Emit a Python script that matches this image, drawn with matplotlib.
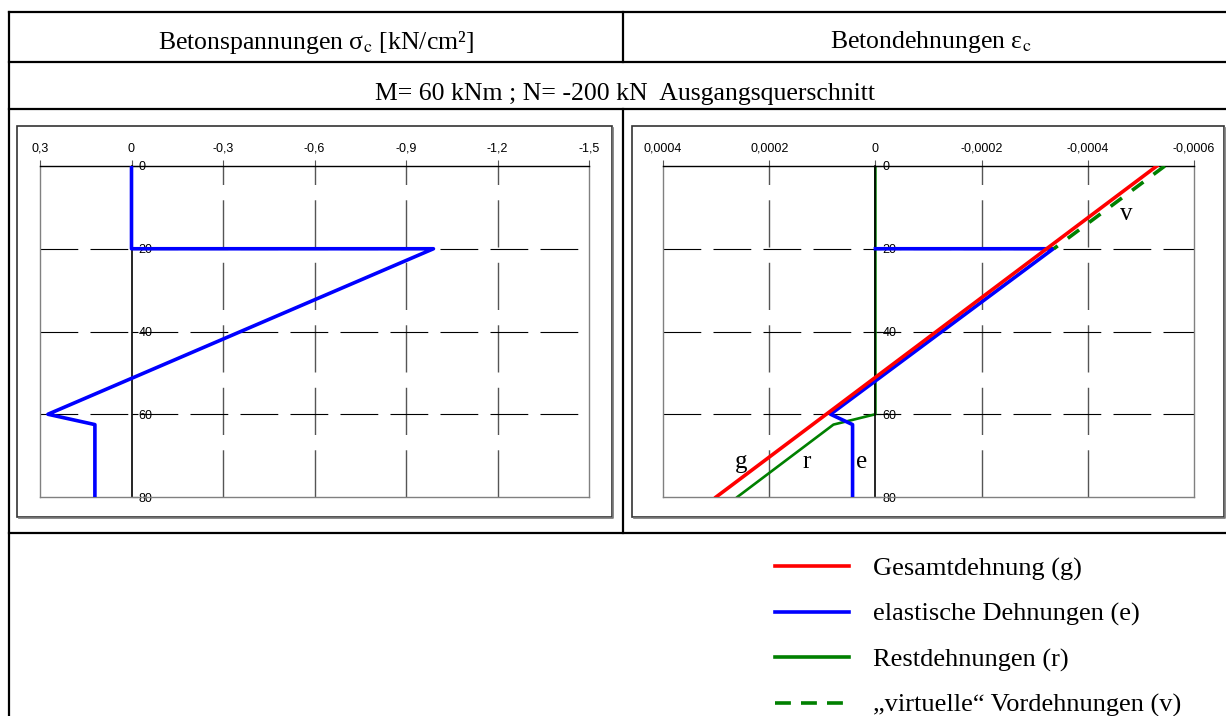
import matplotlib
matplotlib.use('Agg')
import matplotlib.pyplot as plt
from matplotlib.lines import Line2D
from matplotlib.patches import Rectangle
from matplotlib.ticker import FuncFormatter
from matplotlib.font_manager import FontProperties

plt.rcParams['font.family'] = 'Liberation Sans'
plt.rcParams['mathtext.fontset'] = 'stix'

W, H = 1226, 716

# Betonspannungen sigma_c [kN/cm2] ueber die Hoehe [cm]
sig_depth = [0, 20, 20, 60, 62.5, 80]
sig_val = [0, 0, -0.99, 0.274, 0.12, 0.12]

# Dehnungen ueber die Hoehe
g_depth = [0, 80]
g_val = [-0.00053, 0.0003]
e_depth = [20, 20, 60, 62.5, 80]
e_val = [0, -0.000335, 0.0000845, 0.000043, 0.000043]
r_depth = [0, 60, 62.5, 80]
r_val = [0, 0, 0.000079, 0.00026]
v_depth = [0, 20]
v_val = [-0.000545, -0.000336]

sig_ticks = [0.3, 0, -0.3, -0.6, -0.9, -1.2, -1.5]
eps_ticks = [0.0004, 0.0002, 0, -0.0002, -0.0004, -0.0006]
depth_ticks = [0, 20, 40, 60, 80]

legend_labels = ['Gesamtdehnung (g)', 'elastische Dehnungen (e)',
                 'Restdehnungen (r)', '\u201evirtuelle\u201c Vordehnungen (v)']

serif = 'Liberation Serif'

fig = plt.figure(figsize=(W / 100, H / 100), dpi=100)
bg = fig.add_axes([0, 0, 1, 1])
bg.set_xlim(0, W)
bg.set_ylim(H, 0)
bg.axis('off')

# table frame
lw_t = 1.6
for y in [12, 62, 109, 533]:
    bg.plot([9, W], [y, y], color='black', lw=lw_t)
bg.plot([9, 9], [12, H], color='black', lw=lw_t)
bg.plot([623, 623], [12, 62], color='black', lw=lw_t)
bg.plot([623, 623], [109, 533], color='black', lw=lw_t)

# chart boxes (with a slight shadow)
for x0, x1 in [(17, 612), (632, 1224)]:
    bg.plot([x0 + 1.5, x1 + 1, x1 + 1], [518, 518, 127.5], color='#777777', lw=1.2)
    bg.add_patch(Rectangle((x0, 126), x1 - x0, 517 - 126, fill=False,
                           ec='#333333', lw=1.2))

bg.text(316, 42, 'Betonspannungen σ$_\\mathrm{c}$ [kN/cm²]', family=serif,
        fontsize=18.5, ha='center', va='center')
bg.text(931, 42, 'Betondehnungen ε$_\\mathrm{c}$', family=serif,
        fontsize=18.5, ha='center', va='center')
bg.text(625, 94, 'M= 60 kNm ; N= -200 kN  Ausgangsquerschnitt', family=serif,
        fontsize=18.5, ha='center', va='center')

fmt = FuncFormatter(lambda v, p: ('%g' % v).replace('.', ','))


def make_ax(x0, x1, ticks):
    ax = fig.add_axes([x0 / W, 1 - 497 / H, (x1 - x0) / W, (497 - 166) / H])
    ax.patch.set_alpha(0)
    ax.set_xlim(ticks[0], ticks[-1])
    ax.set_ylim(80, 0)
    ax.spines['top'].set_color('black')
    ax.spines['top'].set_linewidth(1)
    for s in ['left', 'bottom']:
        ax.spines[s].set_color('#808080')
        ax.spines[s].set_linewidth(1)
    ax.spines['right'].set_position(('data', 0))
    ax.spines['right'].set_color('black')
    ax.spines['right'].set_linewidth(1.2)
    ax.axvline(ticks[-1], color='#808080', lw=1, clip_on=False)
    for t in ticks[1:-1]:
        if t != 0:
            ax.axvline(t, color='#555555', lw=1, ls=(0, (34, 11)), zorder=1)
    for d in depth_ticks[1:-1]:
        ax.axhline(d, color='black', lw=0.8, ls=(0, (34, 11)), zorder=1)
    ax.xaxis.set_ticks_position('top')
    ax.set_xticks(ticks)
    ax.xaxis.set_major_formatter(fmt)
    ax.yaxis.set_ticks_position('right')
    ax.set_yticks(depth_ticks)
    ax.tick_params(axis='x', direction='out', length=4, pad=4, labelsize=9,
                   color='#555555')
    ax.tick_params(axis='y', direction='out', length=4, pad=1, labelsize=9)
    return ax


ax1 = make_ax(40, 589, sig_ticks)
ax1.plot(sig_val, sig_depth, color='#0000ff', lw=2.6, zorder=3)

ax2 = make_ax(663, 1194, eps_ticks)
ax2.plot(e_val, e_depth, color='#0000ff', lw=2.6, zorder=3)
ax2.plot(r_val, r_depth, color='#008000', lw=1.9, zorder=2)
ax2.plot(v_val, v_depth, color='#008000', lw=2.6, dashes=(3.9, 3.5), zorder=3)
ax2.plot(g_val, g_depth, color='#ff0000', lw=2.6, zorder=4)

for lab, xv, yv in [('g', 0.000252, 71.5), ('r', 0.00013, 71.5),
                    ('e', 0.000026, 71.5), ('v', -0.000473, 11.6)]:
    ax2.text(xv, yv, lab, family=serif, fontsize=18, ha='center', va='center')

handles = [Line2D([], [], color='#ff0000', lw=2.6),
           Line2D([], [], color='#0000ff', lw=2.6),
           Line2D([], [], color='#008000', lw=2.6),
           Line2D([], [], color='#008000', lw=2.6, dashes=(4.4, 2.8))]
fig.legend(handles, legend_labels, loc='upper left',
           bbox_to_anchor=(775 / W, 1 - 557 / H), frameon=False,
           prop=FontProperties(family=serif, size=19), borderpad=0,
           borderaxespad=0, handlelength=2.8, handletextpad=0.9,
           labelspacing=0.82)

fig.savefig('out.png', dpi=100)
